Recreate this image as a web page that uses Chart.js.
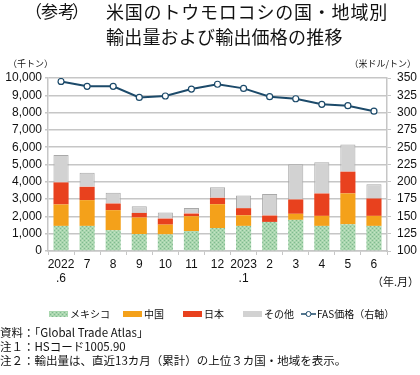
<!DOCTYPE html>
<html>
<head>
<meta charset="utf-8">
<title>米国のトウモロコシの国・地域別輸出量および輸出価格の推移</title>
<script src="https://cdn.jsdelivr.net/npm/chart.js"></script>
<style>
  body { margin: 0; background: #fff; }
  #wrap { position: relative; width: 420px; height: 375px; }
</style>
</head>
<body>
<div id="wrap"><canvas id="c"></canvas></div>
<script>
// --- data (thousand tons / USD per ton) ---
const months = [['2022', '.6'], '7', '8', '9', '10', '11', '12', ['2023', '.1'], '2', '3', '4', '5', '6'];
const mexico = [1450, 1450, 1200, 980, 960, 1150, 1330, 1450, 1680, 1800, 1450, 1545, 1450];
const china  = [1240, 1490, 1160, 955, 565, 860, 1375, 615, 0, 350, 580, 1785, 580];
const japan  = [1275, 770, 385, 265, 350, 155, 370, 410, 370, 830, 1295, 1255, 1005];
const others = [1585, 815, 620, 390, 350, 325, 615, 735, 1240, 2030, 1800, 1565, 830];
const fasPrice = [345, 338, 338, 322, 324, 334, 341, 335, 323, 320, 312, 310, 302];
const seriesNames = ['メキシコ', '中国', '日本', 'その他', 'FAS価格（右軸）'];

const COLORS = {
  orange: '#f4a11a',
  red: '#e8411e',
  gray: '#d2d2d2',
  grayBorder: '#a9a9a9',
  line: '#1c4a6a',
  grid: '#c6c6c6'
};

// dotted green fill like the original
function greenPattern() {
  const c = document.createElement('canvas');
  c.width = 4; c.height = 4;
  const g = c.getContext('2d');
  g.fillStyle = '#a9d6ae';
  g.fillRect(0, 0, 4, 4);
  g.fillStyle = '#7fb990';
  g.fillRect(0, 0, 1, 1);
  g.fillRect(2, 2, 1, 1);
  g.fillStyle = '#c4e3c6';
  g.fillRect(2, 0, 1, 1);
  g.fillRect(0, 2, 1, 1);
  return g.createPattern(c, 'repeat');
}
const GREEN = greenPattern();

const JP = "'Noto Sans CJK JP', sans-serif";
Chart.defaults.font.family = "'Liberation Sans', 'Noto Sans CJK JP', sans-serif";
Chart.defaults.color = '#222';

// titles, unit labels, legend and notes drawn on the canvas
const decorations = {
  id: 'decorations',
  afterDraw(chart) {
    const ctx = chart.ctx;
    ctx.save();
    ctx.fillStyle = '#111';
    ctx.textBaseline = 'middle';
    ctx.textAlign = 'left';

    ctx.font = '17px ' + JP;
    ctx.fillText('（', 25, 12);
    ctx.fillText('参考', 41, 12);
    ctx.fillText('）', 72, 12);
    ctx.font = '18px ' + JP;
    ctx.letterSpacing = '0.8px';
    ctx.fillText('米国のトウモロコシの国・地域別', 106, 12);
    ctx.letterSpacing = '0.2px';
    ctx.fillText('輸出量および輸出価格の推移', 106, 37);
    ctx.letterSpacing = '0px';

    ctx.font = '9px ' + JP;
    ctx.fillText('（千トン）', 8, 64);
    ctx.textAlign = 'right';
    ctx.fillText('（米ドル/トン）', 416, 64);
    ctx.font = '11px ' + JP;
    ctx.fillText('（年.月）', 419, 282);

    // legend
    ctx.textAlign = 'left';
    ctx.font = '10px ' + JP;
    const ly = 314;
    const boxes = [
      [49, GREEN, seriesNames[0]],
      [123, COLORS.orange, seriesNames[1]],
      [183, COLORS.red, seriesNames[2]],
      [243, COLORS.gray, seriesNames[3]]
    ];
    boxes.forEach(([x, fill, name]) => {
      ctx.fillStyle = fill;
      ctx.fillRect(x, ly - 3, 19, 6);
      ctx.fillStyle = '#111';
      ctx.fillText(name, x + 21, ly);
    });
    ctx.strokeStyle = COLORS.line;
    ctx.lineWidth = 1.5;
    ctx.beginPath();
    ctx.moveTo(301, ly); ctx.lineTo(316, ly);
    ctx.stroke();
    ctx.beginPath();
    ctx.arc(308.5, ly, 2.5, 0, Math.PI * 2);
    ctx.fillStyle = '#fff';
    ctx.fill();
    ctx.lineWidth = 1;
    ctx.stroke();
    ctx.fillStyle = '#111';
    ctx.fillText('FAS価格（右軸）', 317, ly);

    // notes
    ctx.font = '11.5px ' + JP;
    ctx.fillText('資料：「Global Trade Atlas」', 0, 333);
    ctx.fillText('注１：HSコード1005.90', 0, 347);
    ctx.fillText('注２：輸出量は、直近13カ月（累計）の上位３カ国・地域を表示。', 0, 361);
    ctx.restore();
  }
};

const barCommon = { type: 'bar', yAxisID: 'y', stack: 's', order: 1, barPercentage: 0.58, categoryPercentage: 1 };

new Chart(document.getElementById('c'), {
  data: {
    labels: months,
    datasets: [
      Object.assign({ label: seriesNames[0], data: mexico, backgroundColor: GREEN }, barCommon),
      Object.assign({ label: seriesNames[1], data: china, backgroundColor: COLORS.orange }, barCommon),
      Object.assign({ label: seriesNames[2], data: japan, backgroundColor: COLORS.red }, barCommon),
      Object.assign({ label: seriesNames[3], data: others, backgroundColor: COLORS.gray,
        borderColor: COLORS.grayBorder, borderWidth: 1, borderSkipped: 'bottom' }, barCommon),
      {
        type: 'line',
        label: seriesNames[4],
        data: fasPrice,
        yAxisID: 'y1',
        order: 0,
        borderColor: COLORS.line,
        borderWidth: 2,
        pointRadius: 3,
        pointBackgroundColor: '#fff',
        pointBorderColor: COLORS.line,
        pointBorderWidth: 1.2,
        tension: 0
      }
    ]
  },
  options: {
    responsive: true,
    maintainAspectRatio: false,
    animation: false,
    layout: { padding: { top: 78, bottom: 84, left: 0, right: 0 } },
    plugins: { legend: { display: false }, tooltip: { enabled: false } },
    scales: {
      x: {
        stacked: true,
        grid: { drawOnChartArea: false, drawTicks: true, tickLength: 4, color: COLORS.grid },
        border: { color: COLORS.grid, width: 1.5 },
        ticks: { font: { size: 12 }, lineHeight: 1.4, padding: 2, maxRotation: 0, autoSkip: false, color: '#111' },
        afterFit: s => { s.height = 40; }
      },
      y: {
        stacked: true,
        position: 'left',
        min: 0, max: 10000,
        ticks: { stepSize: 1000, autoSkip: false, font: { size: 12 }, padding: 3, color: '#111',
          callback: v => v.toLocaleString('en-US') },
        grid: { color: COLORS.grid, lineWidth: 1.5, tickLength: 3 },
        border: { color: COLORS.grid, width: 1.5 },
        afterFit: s => { s.width = 48; }
      },
      y1: {
        position: 'right',
        min: 100, max: 350,
        ticks: { stepSize: 25, autoSkip: false, font: { size: 12 }, padding: 6, color: '#111' },
        grid: { drawOnChartArea: false, tickLength: 4, color: COLORS.grid },
        border: { color: COLORS.grid, width: 1.5 },
        afterFit: s => { s.width = 33; }
      }
    }
  },
  plugins: [decorations]
});
</script>
</body>
</html>
